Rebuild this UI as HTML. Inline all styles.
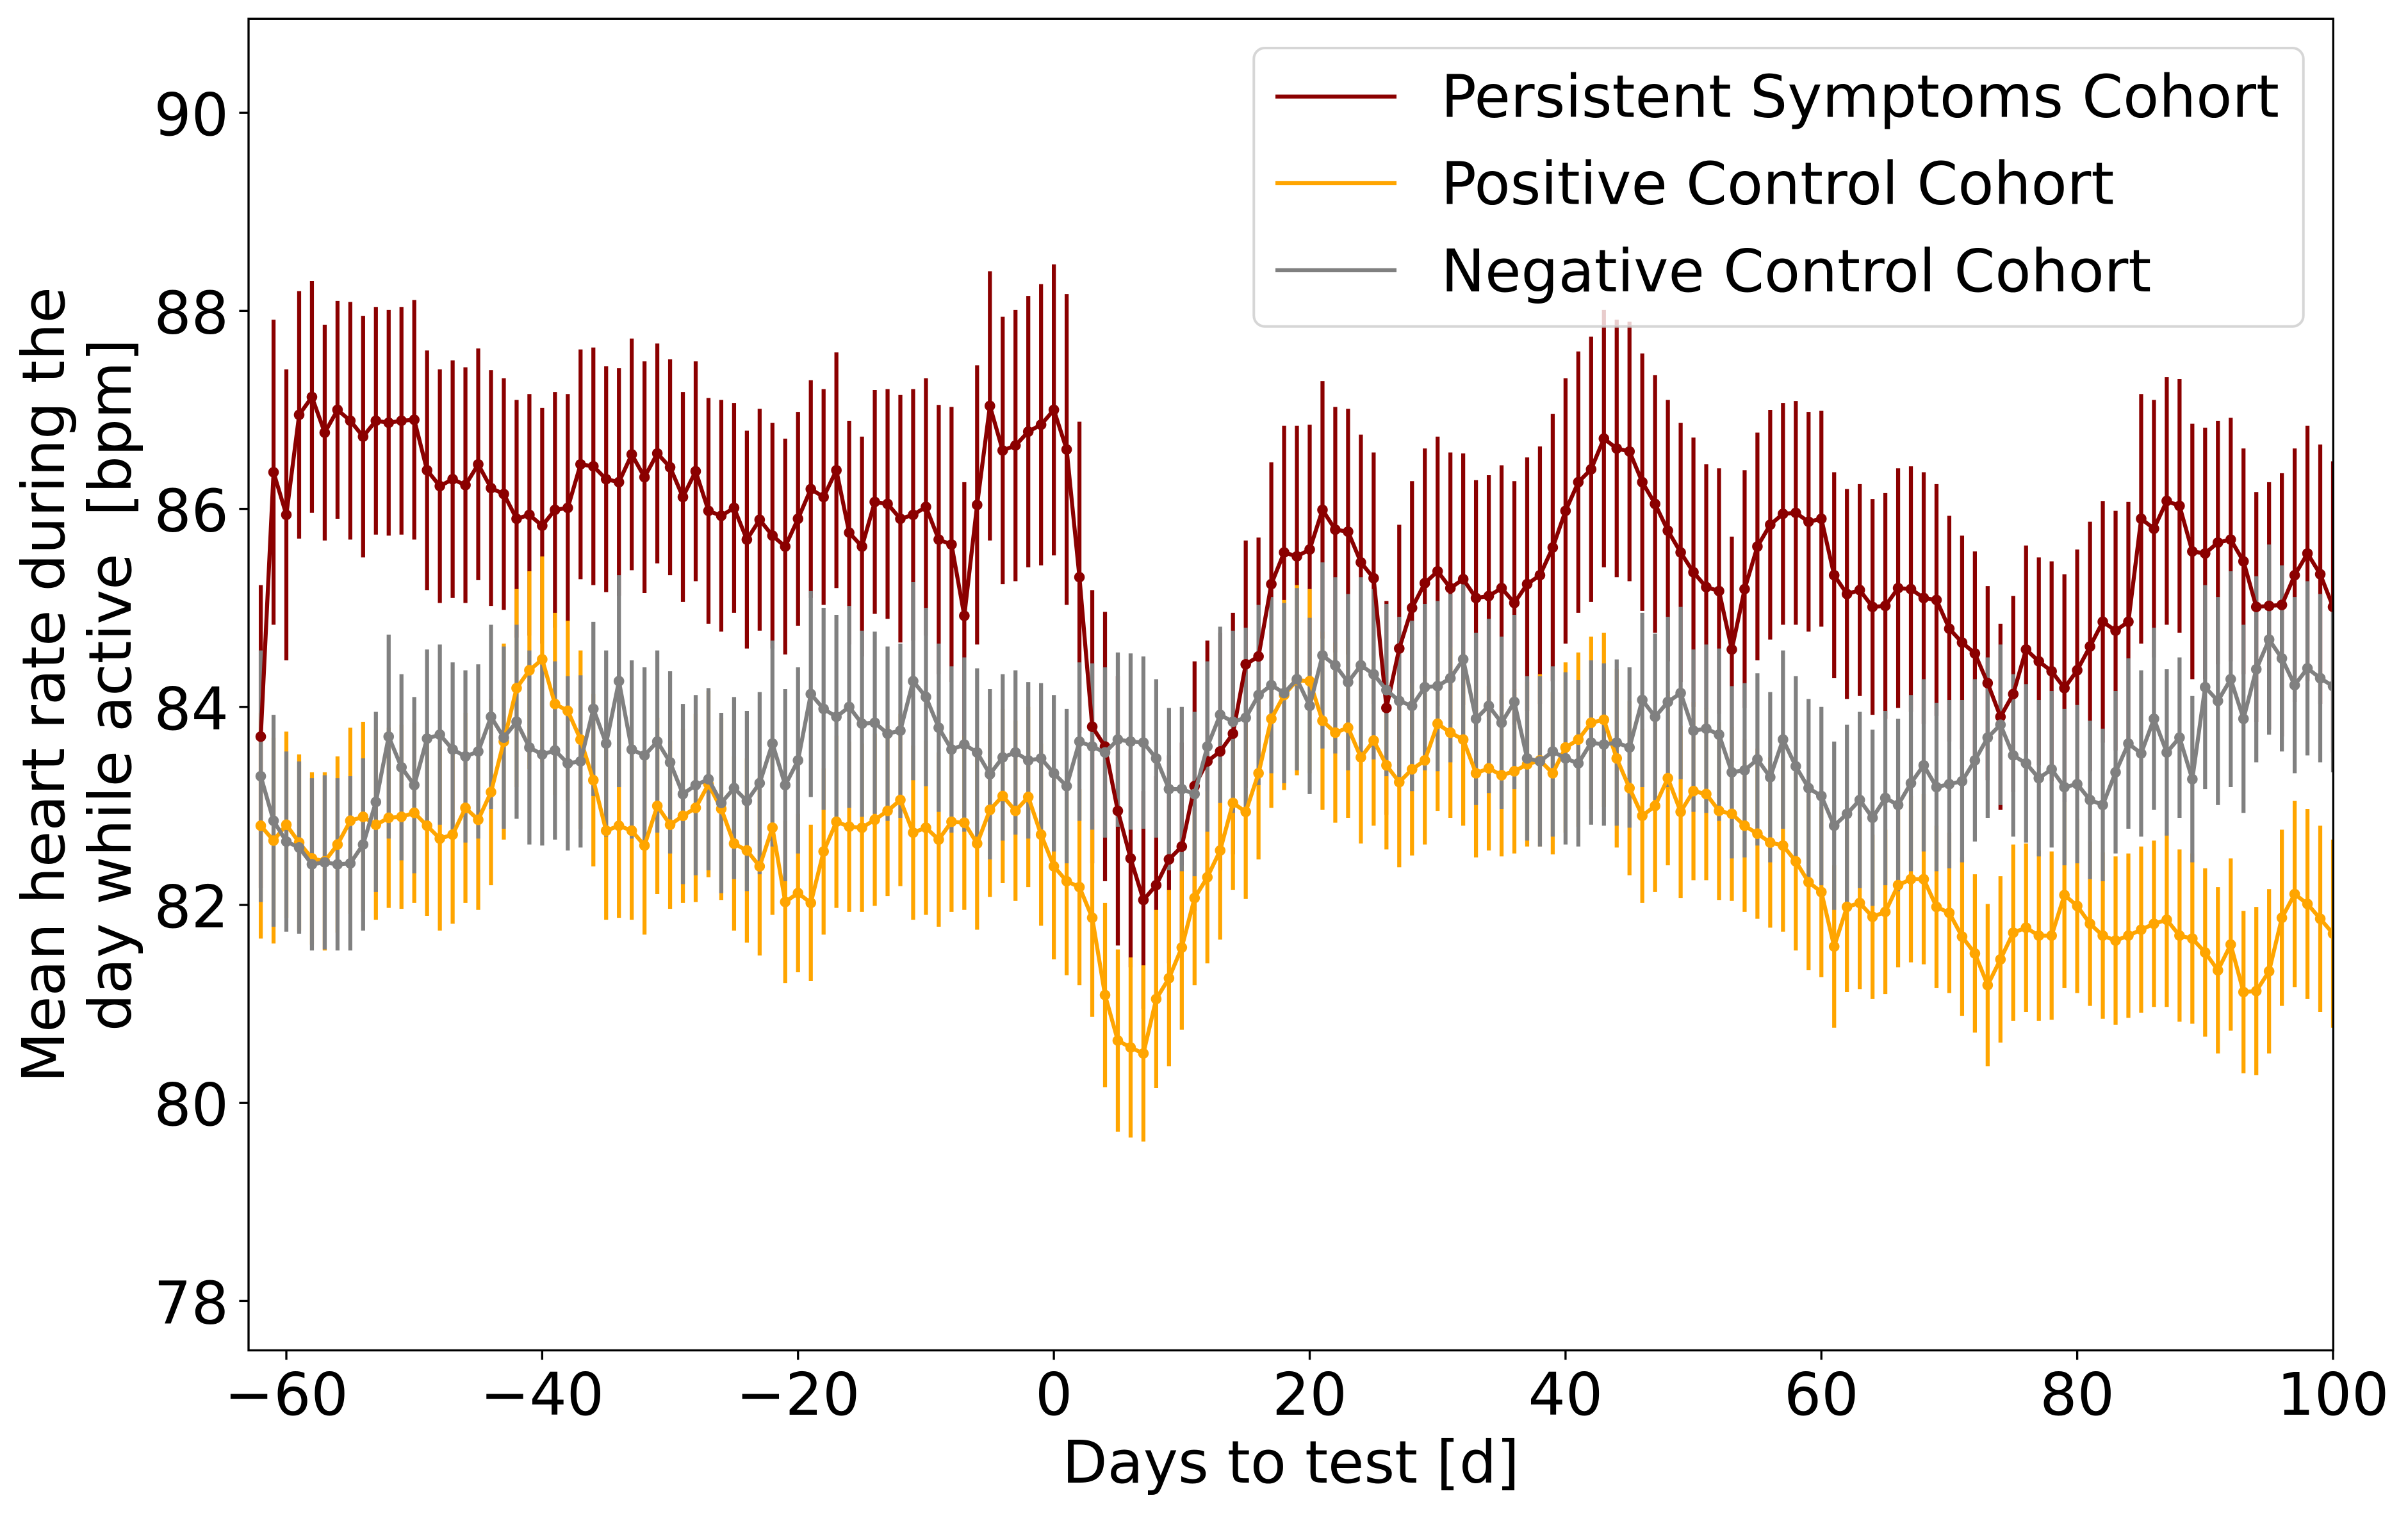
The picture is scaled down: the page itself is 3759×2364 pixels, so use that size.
<!DOCTYPE html>
<html>
<head>
<meta charset="utf-8">
<title>Mean heart rate during the day while active</title>
<style>
html,body{margin:0;padding:0;background:#fff;width:3759px;height:2364px;overflow:hidden}
svg{display:block}
text{font-family:"DejaVu Sans","Liberation Sans",sans-serif;font-size:91.67px;fill:#000;white-space:pre}
</style>
</head>
<body>
<svg id="chart" xmlns="http://www.w3.org/2000/svg" width="3759" height="2364" viewBox="0 0 3759 2364">
  <rect x="0" y="0" width="3759" height="2364" fill="#fff"/>
  <defs><clipPath id="plot-clip"><rect x="388" y="29.3" width="3254.3" height="2079.2"/></clipPath></defs>
  <g id="bars" clip-path="url(#plot-clip)"></g>
  <g id="lines" clip-path="url(#plot-clip)"></g>
  <g id="xticks"></g>
  <g id="yticks"></g>
  <rect x="388" y="29.3" width="3254.3" height="2079.2" fill="none" stroke="#000" stroke-width="3.33"/>
  <text x="2015" y="2315" text-anchor="middle">Days to test [d]</text>
  <text transform="translate(100,1069.5) rotate(-90)" text-anchor="middle">Mean heart rate during the</text>
  <text transform="translate(204,1069.5) rotate(-90)" text-anchor="middle">day while active  [bpm]</text>
  <g>
    <rect x="1957.3" y="75" width="1638.4" height="434.7" rx="17" ry="17" fill="#fff" fill-opacity="0.8" stroke="#ccc" stroke-opacity="0.8" stroke-width="4"/>
    <line x1="1991" x2="2180" y1="150.7" y2="150.7" stroke="#8b0000" stroke-width="6.25"/>
    <text x="2249.5" y="182.7">Persistent Symptoms Cohort</text>
    <line x1="1991" x2="2180" y1="286" y2="286" stroke="#ffa500" stroke-width="6.25"/>
    <text x="2249.5" y="318.7">Positive Control Cohort</text>
    <line x1="1991" x2="2180" y1="422" y2="422" stroke="#808080" stroke-width="6.25"/>
    <text x="2249.5" y="455">Negative Control Cohort</text>
  </g>
</svg>
<script>
const firstDay = -62;
const xTickLabels = [-60, -40, -20, 0, 20, 40, 60, 80, 100];
const yTickLabels = [78, 80, 82, 84, 86, 88, 90];

const persistentMean = [83.70,86.37,85.94,86.95,87.13,86.77,87.00,86.89,86.73,86.89,86.87,86.89,86.90,86.39,86.23,86.30,86.24,86.45,86.21,86.15,85.90,85.94,85.83,85.99,86.01,86.45,86.43,86.30,86.27,86.55,86.32,86.56,86.42,86.12,
86.38,85.98,85.93,86.01,85.69,85.89,85.73,85.62,85.90,86.20,86.12,86.39,85.76,85.62,86.07,86.05,85.90,85.94,86.02,85.69,85.64,84.92,86.04,87.04,86.59,86.64,86.78,86.85,87.00,86.60,85.31,83.80,83.60,82.95,82.47,
82.05,82.20,82.46,82.59,83.20,83.45,83.55,83.73,84.43,84.51,85.24,85.56,85.52,85.59,85.99,85.79,85.77,85.46,85.30,83.99,84.59,85.00,85.25,85.37,85.20,85.29,85.10,85.12,85.20,85.05,85.24,85.33,
85.61,85.98,86.27,86.40,86.71,86.61,86.58,86.27,86.05,85.78,85.56,85.36,85.21,85.17,84.58,85.19,85.62,85.84,85.95,85.96,85.87,85.90,85.33,85.14,85.18,85.01,85.02,85.20,85.19,85.10,85.08,84.79,84.65,84.54,
84.24,83.90,84.13,84.58,84.46,84.36,84.19,84.37,84.61,84.86,84.77,84.86,85.90,85.80,86.08,86.03,85.57,85.55,85.66,85.69,85.47,85.01,85.02,85.03,85.33,85.55,85.34,85.01];

const persistentErr = [1.53,1.54,1.47,1.25,1.17,1.09,1.10,1.20,1.22,1.15,1.14,1.15,1.21,1.21,1.18,1.20,1.19,1.17,1.19,1.17,1.20,1.22,1.19,1.19,1.15,1.16,1.20,1.14,1.15,1.17,1.17,1.11,1.09,1.06,
1.11,1.14,1.17,1.06,1.10,1.12,1.14,1.09,1.08,1.10,1.09,1.19,1.13,1.11,1.13,1.16,1.25,1.27,1.30,1.36,1.39,1.35,1.41,1.36,1.35,1.37,1.37,1.42,1.47,1.57,1.57,1.38,1.36,1.36,1.10,
1.10,1.10,1.05,1.05,1.26,1.22,1.20,1.22,1.25,1.20,1.23,1.28,1.32,1.26,1.30,1.24,1.24,1.29,1.27,1.08,1.25,1.28,1.36,1.36,1.37,1.27,1.19,1.22,1.24,1.23,1.28,1.30,
1.35,1.34,1.32,1.34,1.30,1.30,1.31,1.30,1.30,1.32,1.31,1.36,1.24,1.24,1.14,1.20,1.15,1.16,1.12,1.13,1.11,1.09,1.04,1.06,1.07,1.09,1.14,1.21,1.24,1.27,1.17,1.14,1.08,1.03,
0.98,0.94,0.99,1.05,1.05,1.11,1.15,1.22,1.26,1.22,1.21,1.21,1.26,1.30,1.25,1.28,1.29,1.27,1.23,1.23,1.14,1.16,1.25,1.33,1.28,1.29,1.31,1.47];

const positiveMean = [82.80,82.65,82.81,82.63,82.47,82.44,82.61,82.85,82.89,82.81,82.88,82.89,82.93,82.80,82.67,82.71,82.98,82.86,83.14,83.65,84.19,84.37,84.48,84.03,83.96,83.67,83.26,82.75,82.80,82.75,82.60,83.00,82.81,82.90,
82.98,83.22,82.97,82.62,82.55,82.39,82.78,82.03,82.12,82.02,82.54,82.84,82.79,82.78,82.86,82.95,83.06,82.73,82.78,82.66,82.84,82.83,82.62,82.96,83.10,82.95,83.09,82.71,82.39,82.24,82.18,81.87,81.09,80.63,80.56,
80.50,81.05,81.26,81.57,82.07,82.28,82.55,83.03,82.94,83.33,83.88,84.12,84.27,84.26,83.86,83.74,83.79,83.49,83.66,83.41,83.24,83.37,83.46,83.83,83.74,83.67,83.33,83.38,83.31,83.35,83.42,83.46,
83.33,83.59,83.67,83.84,83.87,83.48,83.18,82.90,83.00,83.28,82.94,83.15,83.12,82.95,82.92,82.80,82.72,82.63,82.60,82.44,82.23,82.13,81.58,81.98,82.02,81.88,81.93,82.20,82.26,82.26,81.98,81.92,81.68,81.51,
81.19,81.45,81.72,81.77,81.69,81.69,82.10,81.99,81.81,81.69,81.64,81.69,81.75,81.81,81.85,81.69,81.66,81.52,81.34,81.60,81.12,81.13,81.33,81.87,82.11,82.01,81.86,81.71];

const positiveErr = [1.14,1.04,0.94,0.89,0.87,0.90,0.89,0.94,0.96,0.96,0.91,0.93,0.91,0.91,0.93,0.90,0.96,0.91,0.94,0.99,1.00,1.00,1.04,0.92,0.91,0.90,0.87,0.90,0.93,0.90,0.90,0.89,0.85,0.88,
0.95,0.94,0.92,0.88,0.93,0.90,0.88,0.82,0.80,0.79,0.84,0.87,0.86,0.85,0.87,0.86,0.87,0.88,0.88,0.88,0.91,0.88,0.87,0.88,0.88,0.91,0.91,0.92,0.94,0.95,0.99,1.00,0.93,0.92,0.91,
0.89,0.90,0.89,0.83,0.88,0.87,0.90,0.88,0.88,0.87,0.90,0.96,0.96,0.93,0.90,0.91,0.91,0.87,0.86,0.85,0.86,0.87,0.85,0.88,0.86,0.87,0.85,0.83,0.82,0.83,0.83,0.87,
0.82,0.86,0.88,0.87,0.88,0.90,0.88,0.88,0.87,0.88,0.87,0.90,0.87,0.90,0.88,0.87,0.86,0.86,0.87,0.90,0.89,0.86,0.82,0.86,0.87,0.83,0.83,0.83,0.84,0.86,0.82,0.81,0.80,0.80,
0.82,0.84,0.89,0.85,0.86,0.85,0.94,0.88,0.83,0.84,0.85,0.83,0.84,0.84,0.88,0.87,0.86,0.85,0.84,0.87,0.82,0.85,0.83,0.89,0.94,0.96,0.94,0.95];

const negativeMean = [83.30,82.85,82.64,82.58,82.41,82.43,82.41,82.42,82.61,83.04,83.70,83.39,83.21,83.68,83.72,83.57,83.50,83.55,83.90,83.69,83.85,83.59,83.52,83.56,83.43,83.45,83.98,83.63,84.26,83.57,83.51,83.65,83.44,83.12,
83.21,83.27,83.03,83.18,83.05,83.23,83.63,83.21,83.46,84.13,83.98,83.90,84.00,83.83,83.84,83.73,83.76,84.26,84.10,83.79,83.57,83.62,83.54,83.32,83.49,83.54,83.46,83.48,83.33,83.20,83.65,83.60,83.54,83.67,83.65,
83.64,83.48,83.17,83.17,83.12,83.60,83.92,83.85,83.89,84.12,84.22,84.14,84.28,84.01,84.52,84.42,84.25,84.42,84.33,84.17,84.06,84.01,84.20,84.21,84.29,84.48,83.88,84.01,83.84,84.05,83.48,83.45,
83.55,83.48,83.43,83.64,83.62,83.64,83.59,84.07,83.90,84.05,84.14,83.76,83.78,83.72,83.34,83.36,83.47,83.29,83.67,83.40,83.18,83.10,82.80,82.92,83.06,82.88,83.08,83.01,83.23,83.41,83.19,83.22,83.25,83.46,
83.69,83.82,83.51,83.43,83.28,83.37,83.19,83.22,83.06,83.01,83.34,83.63,83.53,83.88,83.54,83.69,83.27,84.20,84.06,84.28,83.88,84.38,84.68,84.49,84.22,84.39,84.29,84.21];

const negativeErr = [1.27,1.07,0.91,0.87,0.87,0.88,0.87,0.88,0.87,0.91,1.03,0.94,0.89,0.90,0.91,0.88,0.87,0.88,0.93,0.92,0.98,0.98,0.92,0.90,0.88,0.87,0.88,0.94,1.07,0.90,0.89,0.92,0.92,0.91,
0.91,0.92,0.91,0.92,0.91,0.92,1.04,0.97,0.94,1.04,1.02,1.03,1.02,0.94,0.92,0.88,0.88,1.00,0.90,0.85,0.84,0.88,0.85,0.86,0.84,0.83,0.79,0.76,0.79,0.78,0.80,0.84,0.86,0.88,0.89,
0.87,0.80,0.82,0.83,0.83,0.86,0.89,0.92,0.91,0.91,0.89,0.91,0.92,0.89,0.94,0.89,0.89,0.89,0.86,0.87,0.85,0.86,0.84,0.86,0.85,0.80,0.87,0.88,0.87,0.88,0.83,0.86,
0.86,0.87,0.84,0.83,0.82,0.84,0.81,0.88,0.84,0.86,0.87,0.82,0.85,0.87,0.87,0.88,0.87,0.86,0.90,0.91,0.90,0.90,0.85,0.90,0.89,0.89,0.88,0.87,0.89,0.87,0.85,0.85,0.82,0.82,
0.81,0.81,0.82,0.80,0.79,0.79,0.79,0.80,0.80,0.77,0.82,0.86,0.84,0.92,0.84,0.81,0.84,1.03,1.05,1.09,0.95,0.94,0.96,0.94,0.89,0.88,0.85,0.87];

const seriesList = [
  { key: 'persistent', color: '#8b0000', mean: persistentMean, err: persistentErr },
  { key: 'positive', color: '#ffa500', mean: positiveMean, err: positiveErr },
  { key: 'negative', color: '#808080', mean: negativeMean, err: negativeErr }
];

const NS = 'http://www.w3.org/2000/svg';
const plot = { left: 388, right: 3642, top: 29.3, bottom: 2108.5 };
const xLim = [-62.955, 100];
const yLim = [77.5013, 90.95];

function xScale(day) {
  return plot.left + (day - xLim[0]) / (xLim[1] - xLim[0]) * (plot.right - plot.left);
}
function yScale(value) {
  return plot.bottom - (value - yLim[0]) / (yLim[1] - yLim[0]) * (plot.bottom - plot.top);
}
function make(tag, attrs, parent) {
  const node = document.createElementNS(NS, tag);
  for (const k in attrs) node.setAttribute(k, attrs[k]);
  parent.appendChild(node);
  return node;
}

const barsGroup = document.getElementById('bars');
const linesGroup = document.getElementById('lines');
const xTickGroup = document.getElementById('xticks');
const yTickGroup = document.getElementById('yticks');

// Error bars of all series sit below all the lines.
seriesList.forEach(function (s) {
  const g = make('g', {}, barsGroup);
  
  
  s.mean.forEach(function (m, i) {
    const x = xScale(firstDay + i);
    const bar = make('line', { x1: x, x2: x, y1: yScale(m - s.err[i]), y2: yScale(m + s.err[i]), stroke: s.color, 'stroke-width': 6.25 }, g);
    
    
  });
});

seriesList.forEach(function (s) {
  const g = make('g', {}, linesGroup);
  
  
  const pts = s.mean.map(function (m, i) {
    return xScale(firstDay + i).toFixed(2) + ',' + yScale(m).toFixed(2);
  });
  const line = make('polyline', { points: pts.join(' '), fill: 'none', stroke: s.color, 'stroke-width': 6.25, 'stroke-linejoin': 'round' }, g);
  
  
  s.mean.forEach(function (m, i) {
    const dot = make('circle', { cx: xScale(firstDay + i), cy: yScale(m), r: 8.3, fill: s.color }, g);
    
    
  });
});

xTickLabels.forEach(function (t) {
  const x = xScale(t);
  const mark = make('line', { x1: x, x2: x, y1: plot.bottom, y2: plot.bottom + 14.6, stroke: '#000', 'stroke-width': 3.33 }, xTickGroup);
  
  
  const label = make('text', { x: x, y: 2209, 'text-anchor': 'middle' }, xTickGroup);
  
  
  label.textContent = String(t).replace('-', '\u2212');
});

yTickLabels.forEach(function (t) {
  const y = yScale(t);
  const mark = make('line', { x1: plot.left, x2: plot.left - 14.6, y1: y, y2: y, stroke: '#000', 'stroke-width': 3.33 }, yTickGroup);
  
  
  const label = make('text', { x: 357, y: y + 35, 'text-anchor': 'end' }, yTickGroup);
  
  
  label.textContent = String(t);
});
</script>
</body>
</html>
